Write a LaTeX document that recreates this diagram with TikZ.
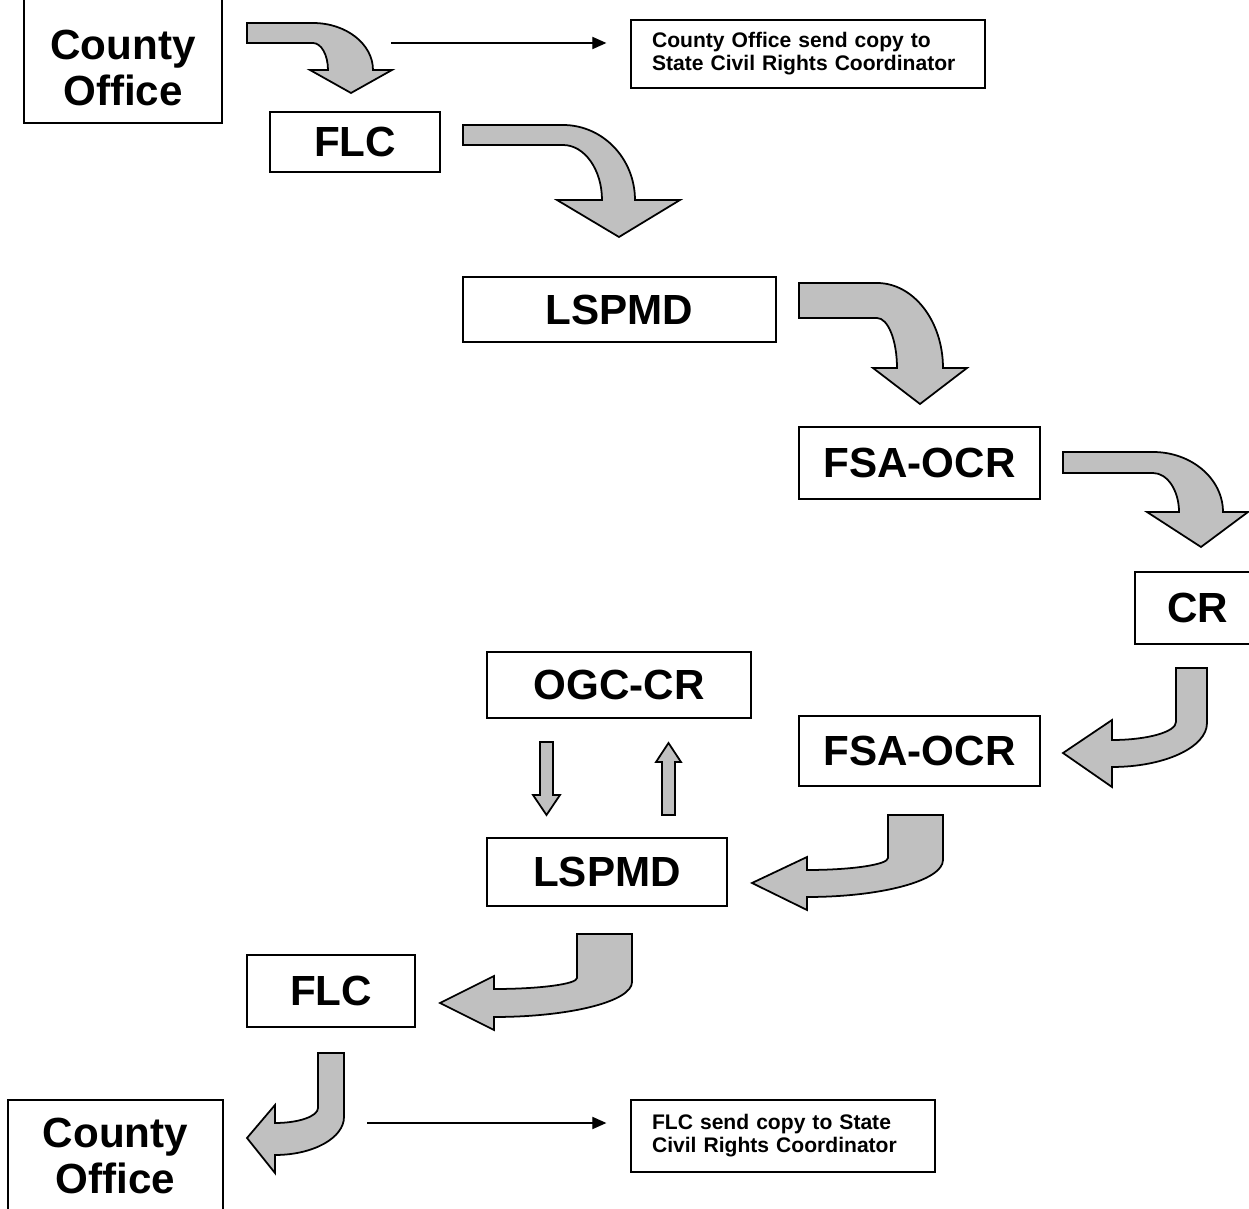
\documentclass[tikz,border=0pt]{standalone}
\usepackage{fontspec}
\newfontfamily\labelfont{Liberation Sans}
\usetikzlibrary{arrows.meta}
\definecolor{arrowgray}{HTML}{C0C0C0}
\tikzset{
  >={Triangle[length=8pt,width=7pt]},
  box/.style={draw,line width=1pt,inner sep=0pt,align=center,
    font=\labelfont\bfseries\fontsize{24}{26}\selectfont},
  note/.style={draw,line width=0.8pt,inner xsep=0.42cm,inner ysep=0pt,align=left,
    font=\labelfont\bfseries\fontsize{12}{13}\selectfont},
  boxsize/.style 2 args={minimum width=#1*0.02cm,minimum height=#2*0.02cm},
  bigarrow/.style={draw,line width=1pt,fill=arrowgray},
  copyarrow/.style={->,line width=0.6pt,shorten >=0.48cm}
}

\begin{document}
\begin{tikzpicture}[x=0.02cm, y=-0.02cm]
  \useasboundingbox (0,0) rectangle (1249,1209);

  % Way up
  \node[box, boxsize={198}{126}, text height=52pt] (co1) at (123,60) {County\\Office};
  \node[box, boxsize={170}{60}] (flc1) at (355,142) {FLC};
  \node[box, boxsize={313}{65}] (lspmd1) at (619.5,309.5) {LSPMD};
  \node[box, boxsize={241}{72}] (ocr1) at (919.5,463) {FSA-OCR};
  \node[box, boxsize={125}{72}] (cr) at (1197.5,608) {CR};

  % Way back
  \node[box, boxsize={264}{66}] (ogc) at (619,685) {OGC-CR};
  \node[box, boxsize={241}{70}] (ocr2) at (919.5,751) {FSA-OCR};
  \node[box, boxsize={240}{68}] (lspmd2) at (607,872) {LSPMD};
  \node[box, boxsize={168}{72}] (flc2) at (331,991) {FLC};
  \node[box, boxsize={215}{112}] (co2) at (115.5,1156) {County\\Office};

  % Copies
  \node[note, text width=6.24cm, minimum height=1.36cm] (note1) at (808,54)
    {County Office send copy to\\State Civil Rights Coordinator};
  \node[note, text width=5.24cm, minimum height=1.44cm] (note2) at (783,1136)
    {FLC send copy to State\\Civil Rights Coordinator};

  \coordinate (c1) at (391,43);
  \coordinate (c2) at (367,1123);
  \draw[copyarrow] (c1) -- (c1 -| note1.west);
  \draw[copyarrow] (c2) -- (c2 -| note2.west);

  % Bent arrows, down the right
  \draw[bigarrow] (247,23) -- (313,23) arc[start angle=90,end angle=0,x radius=1.2cm,y radius=0.94cm]
    -- (392,70) -- (351,93) -- (310,70) -- (328,70)
    arc[start angle=0,end angle=90,x radius=0.3cm,y radius=0.54cm] -- (247,43) -- cycle;
  \draw[bigarrow] (463,125) -- (563,125) arc[start angle=90,end angle=0,x radius=1.44cm,y radius=1.5cm]
    -- (680,200) -- (619,237) -- (557,200) -- (602,200)
    arc[start angle=0,end angle=90,x radius=0.78cm,y radius=1.1cm] -- (463,145) -- cycle;
  \draw[bigarrow] (799,283) -- (877,283) arc[start angle=90,end angle=0,x radius=1.32cm,y radius=1.7cm]
    -- (967,368) -- (920,404) -- (873,368) -- (897,368)
    arc[start angle=0,end angle=90,x radius=0.4cm,y radius=1.0cm] -- (799,318) -- cycle;
  \draw[bigarrow] (1063,452) -- (1153,452) arc[start angle=90,end angle=0,x radius=1.4cm,y radius=1.2cm]
    -- (1248,512) -- (1201,547) -- (1147,512) -- (1179,512)
    arc[start angle=0,end angle=90,x radius=0.52cm,y radius=0.78cm] -- (1063,473) -- cycle;

  % Bent arrows, back to the left
  \draw[bigarrow] (1176,668) -- (1207,668) -- (1207,723)
    arc[start angle=0,end angle=-90,x radius=1.9cm,y radius=0.88cm]
    -- (1112,787) -- (1063,753) -- (1112,720) -- (1112,740)
    arc[start angle=-90,end angle=0,x radius=1.28cm,y radius=0.36cm] -- cycle;
  \draw[bigarrow] (888,815) -- (943,815) -- (943,860)
    arc[start angle=0,end angle=-90,x radius=2.72cm,y radius=0.74cm]
    -- (807,910) -- (752,883) -- (807,857) -- (807,870)
    arc[start angle=-90,end angle=0,x radius=1.62cm,y radius=0.24cm] -- cycle;
  \draw[bigarrow] (577,934) -- (632,934) -- (632,982)
    arc[start angle=0,end angle=-90,x radius=2.76cm,y radius=0.7cm]
    -- (494,1030) -- (440,1003) -- (494,976) -- (494,989)
    arc[start angle=-90,end angle=0,x radius=1.66cm,y radius=0.22cm] -- cycle;
  \draw[bigarrow] (318,1053) -- (344,1053) -- (344,1117)
    arc[start angle=0,end angle=-90,x radius=1.38cm,y radius=0.76cm]
    -- (275,1173) -- (247,1138) -- (275,1105) -- (275,1123)
    arc[start angle=-90,end angle=0,x radius=0.86cm,y radius=0.3cm] -- cycle;

  % OGC-CR and back
  \draw[bigarrow] (540,742) -- (553,742) -- (553,795) -- (560,795) -- (546.5,815)
    -- (533,795) -- (540,795) -- cycle;
  \draw[bigarrow] (662,815) -- (675,815) -- (675,762) -- (681,762) -- (668.5,743)
    -- (656,762) -- (662,762) -- cycle;
\end{tikzpicture}
\end{document}
